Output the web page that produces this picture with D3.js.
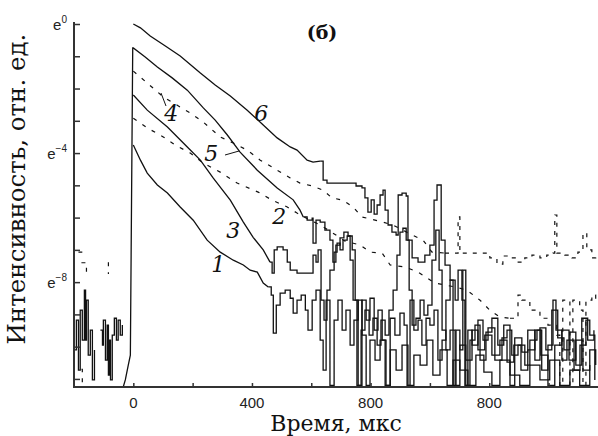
<!DOCTYPE html>
<html>
<head>
<meta charset="utf-8">
<script src="https://d3js.org/d3.v7.min.js"></script>
<style>
  body { margin: 0; background: #fff; }
</style>
</head>
<body>
<div id="chart"></div>
<script>
// ---- data: time (мкс), ln(intensity) ----
// smooth decays (drawn linear) and noisy tails (drawn as steps)
var curve6Decay = [[0,0],[24,-0.12],[57,-0.37],[108,-0.68],[158,-0.99],[226,-1.52],[276,-1.89],[327,-2.23],[384,-2.67],[438,-3.13],[485,-3.53],[529,-3.81],[552,-3.91],[586,-4.22],[606,-4.28],[630,-4.25]];
var curve6Tail = [[630,-4.25],[640,-4.84],[653,-4.93],[751,-5.02],[771,-5.08],[781,-5.39],[791,-5.83],[802,-5.45],[812,-5.89],[822,-5.61],[832,-5.3],[842,-5.15],[849,-5.77],[859,-6.23],[872,-6.45],[886,-6.54],[893,-5.3],[906,-5.24],[920,-5.33],[926,-6.7],[940,-7.25],[960,-7.38],[983,-7.16],[1000,-6.85],[1014,-5.46],[1024,-4.99],[1034,-4.99],[1038,-6.7],[1051,-7.47],[1068,-7.94],[1085,-8.56],[1095,-7.63],[1108,-8.56],[1118,-11.2],[1128,-9.49],[1142,-9.95],[1162,-9.18],[1179,-9.8],[1196,-9.42],[1219,-10.42],[1243,-9.73],[1260,-9.49],[1276,-10.26],[1297,-9.95],[1320,-10.57],[1337,-9.8],[1361,-9.49],[1377,-10.73],[1398,-9.95],[1415,-8.56],[1425,-9.49],[1445,-10.42],[1462,-9.8],[1486,-10.73],[1506,-9.95],[1526,-9.18],[1539,-9.64],[1556,-11.03]];

var curve5Decay = [[-34,-11.25],[-27,-11.03],[-17,-10.57],[-10,-10.26],[-2,-0.74],[0,-0.74],[40,-1.02],[81,-1.33],[131,-1.67],[182,-2.05],[236,-2.6],[276,-2.98],[317,-3.44],[360,-3.97],[418,-4.53],[485,-5.08],[539,-5.45],[562,-5.77],[573,-5.98]];
var curve5Tail = [[573,-5.98],[586,-6.08],[603,-6.02],[606,-6.79],[616,-6.08],[630,-6.14],[646,-6.39],[663,-6.7],[673,-7.38],[683,-6.85],[697,-6.63],[710,-6.45],[724,-6.57],[738,-7.0],[748,-8.56],[758,-11.2],[771,-8.56],[785,-9.18],[798,-8.5],[812,-9.49],[825,-8.87],[839,-9.8],[852,-11.2],[866,-9.12],[882,-9.64],[899,-8.96],[913,-9.33],[923,-11.2],[933,-8.56],[946,-9.49],[960,-9.18],[973,-9.95],[987,-9.12],[1000,-9.33],[1014,-8.87],[1027,-10.42],[1041,-9.8],[1054,-8.56],[1068,-7.94],[1078,-11.2],[1088,-9.49],[1101,-10.1],[1111,-7.63],[1121,-11.2],[1135,-9.8],[1152,-9.33],[1169,-10.42],[1189,-9.55],[1209,-9.12],[1229,-9.95],[1249,-9.33],[1270,-11.2],[1286,-9.73],[1310,-10.17],[1330,-9.49],[1354,-10.42],[1371,-9.42],[1391,-10.1],[1411,-8.87],[1431,-9.73],[1452,-10.1],[1472,-9.55],[1492,-10.57],[1512,-9.12],[1532,-9.8],[1553,-9.49]];

var curve3Decay = [[0,-2.2],[47,-2.67],[115,-3.19],[182,-3.81],[226,-4.22],[269,-4.77],[327,-5.46],[371,-6.14],[404,-6.61],[438,-7.0],[461,-7.38]];
var curve3Tail = [[461,-7.38],[468,-7.72],[475,-7.0],[485,-6.91],[505,-7.0],[519,-7.38],[529,-7.63],[552,-7.72],[596,-7.72],[606,-7.16],[616,-7.38],[623,-7.0],[633,-8.56],[643,-9.18],[653,-8.25],[663,-7.63],[677,-7.07],[687,-6.79],[697,-7.0],[707,-6.7],[721,-6.57],[731,-7.32],[741,-8.56],[754,-11.2],[768,-9.49],[781,-8.87],[795,-9.64],[808,-9.12],[822,-9.95],[835,-9.18],[849,-9.64],[862,-8.87],[876,-8.25],[889,-7.16],[899,-6.45],[909,-6.33],[920,-6.7],[930,-8.25],[940,-9.33],[953,-9.12],[967,-8.56],[980,-9.02],[993,-8.71],[1007,-7.32],[1020,-6.39],[1031,-7.63],[1041,-9.49],[1054,-10.1],[1068,-9.49],[1085,-11.2],[1101,-9.95],[1121,-10.42],[1142,-9.49],[1162,-10.1],[1185,-9.64],[1209,-10.26],[1236,-9.8],[1260,-10.48],[1283,-9.95],[1307,-10.73],[1330,-10.1],[1354,-9.49],[1374,-10.26],[1398,-11.2],[1421,-9.95],[1445,-9.49],[1469,-10.42],[1492,-9.8],[1516,-10.73],[1539,-10.1],[1559,-10.57]];

var curve1Pre = [[-202,-9.49],[-199,-10.1],[-192,-9.18],[-185,-10.73],[-179,-8.87],[-172,-9.8],[-165,-8.25],[-161,-9.8],[-158,-8.56],[-152,-10.26],[-145,-9.49],[-138,-11.03],[-131,-10.1],null,
  [-111,-9.49],[-104,-9.95],[-101,-9.18],[-94,-10.42],[-88,-9.33],[-84,-10.88],[-81,-9.8],[-77,-11.03],[-71,-9.64],[-64,-9.12],[-57,-9.8],[-51,-9.18],[-44,-9.64],[-37,-9.33]];
var curve1Decay = [[0,-3.75],[24,-4.22],[47,-4.62],[81,-4.99],[115,-5.24],[158,-5.67],[202,-6.08],[249,-6.7],[293,-7.07],[337,-7.32],[371,-7.47],[394,-7.63],[418,-7.69],[438,-8.03],[455,-8.15]];
var curve1Tail = [[455,-8.15],[465,-8.4],[472,-9.58],[482,-8.71],[495,-8.34],[512,-8.25],[529,-8.5],[539,-8.96],[552,-8.56],[566,-8.4],[580,-8.87],[589,-9.49],[603,-8.56],[616,-8.25],[630,-9.8],[640,-10.73],[650,-8.56],[663,-11.2],[677,-9.18],[690,-8.56],[704,-9.49],[717,-8.87],[731,-9.95],[744,-9.18],[758,-8.56],[771,-9.64],[785,-11.2],[798,-9.8],[815,-10.42],[832,-9.8],[849,-11.2],[866,-10.1],[886,-10.73],[906,-9.95],[926,-11.2],[946,-10.26],[967,-10.57],[990,-9.8],[1010,-10.88],[1034,-10.1],[1058,-11.2],[1078,-10.42],[1101,-10.73],[1128,-11.2],[1155,-10.26],[1182,-10.79],[1209,-11.2],[1236,-10.42],[1270,-10.88],[1303,-11.2],[1337,-10.57],[1371,-11.03],[1404,-10.42],[1438,-11.2],[1472,-10.73],[1505,-11.2],[1539,-10.57]];

// dashed curves
var curve4Decay = [[0,-1.46],[47,-1.83],[101,-2.26],[141,-2.48],[192,-2.76],[236,-3.04],[293,-3.5],[337,-3.69],[384,-3.91],[428,-4.22],[485,-4.53],[529,-4.77],[562,-4.93],[603,-5.02],[640,-5.15],[670,-5.39],[707,-5.46],[741,-5.67],[771,-5.98],[815,-6.08],[842,-6.14],[875,-6.23],[909,-6.39],[940,-6.54],[977,-6.7],[1007,-7.07],[1051,-7.1]];
var curve4Tail = [[1051,-7.1],[1091,-7.1],[1095,-5.98],[1101,-7.1],[1169,-7.1],[1202,-7.25],[1226,-7.44],[1246,-7.19],[1270,-7.25],[1293,-7.38],[1320,-7.25],[1344,-7.16],[1371,-7.25],[1394,-7.16],[1415,-7.1],[1421,-5.92],[1428,-7.1],[1455,-7.16],[1479,-7.25],[1499,-7.07],[1516,-6.48],[1529,-7.0],[1546,-7.25],[1559,-7.16]];
var curve2Decay = [[0,-2.92],[47,-3.22],[101,-3.5],[141,-3.75],[192,-4.0],[236,-4.31],[293,-4.59],[350,-4.93],[421,-5.21],[468,-5.46],[519,-5.67],[552,-5.86],[596,-6.08],[630,-6.23],[663,-6.42],[714,-6.73],[765,-6.85],[798,-7.07],[839,-7.1],[866,-7.47],[916,-7.53],[960,-7.69],[990,-7.87],[1017,-8.03],[1051,-8.09],[1085,-8.15],[1125,-8.25],[1169,-8.56],[1202,-8.87],[1236,-9.08],[1270,-9.12]];
var curve2Tail = [[1270,-9.12],[1297,-8.4],[1310,-8.56],[1337,-8.87],[1371,-9.12],[1398,-9.33],[1428,-9.64],[1438,-11.2],[1448,-8.56],[1472,-11.2],[1482,-8.56],[1505,-8.87],[1516,-11.2],[1526,-8.56],[1546,-8.4],[1559,-8.56]];
var dashedPre = [[-185,-7.07],[-172,-7.07],null,[-175,-7.4],[-158,-7.7],null,[-84,-7.38],[-84,-7.75],null,[-175,-10.7],[-172,-11.2]];

// ticks
var yTicks = [0,-1,-2,-3,-4,-5,-6,-7,-8,-9,-10,-11];
var yLabels = [[0,"0"],[-4,"\u22124"],[-8,"\u22128"]];
var xTicks = [0,200,400,600,800,1000,1200,1400];
var xLabels = [[0,"0"],[400,"400"],[800,"800"],[1200,"800"]];
var curveNames = ["1","2","3","4","5","6"];

// ---- layout ----
var W = 598, H = 436;
var x = d3.scaleLinear().domain([-200, 1560]).range([74, 596]);
var y = d3.scaleLinear().domain([-11.25, 0]).range([387, 24]);

var svg = d3.select("#chart").append("svg").attr("width", W).attr("height", H);

svg.append("defs").append("clipPath").attr("id", "plot")
  .append("rect").attr("x", 74).attr("y", 10).attr("width", 524).attr("height", 377);

var lin = d3.line().defined(function (d) { return d; })
  .x(function (d) { return x(d[0]); }).y(function (d) { return y(d[1]); });
var step = d3.line().defined(function (d) { return d; })
  .x(function (d) { return x(d[0]); }).y(function (d) { return y(d[1]); })
  .curve(d3.curveStepAfter);

var g = svg.append("g").attr("clip-path", "url(#plot)");

// solid curves
[curve6Decay, curve5Decay, curve3Decay, curve1Decay].forEach(function (c) {
  g.append("path").attr("d", lin(c)).attr("fill", "none").attr("stroke", "#111").attr("stroke-width", 1.3);
});
[curve6Tail, curve5Tail, curve3Tail, curve1Tail, curve1Pre].forEach(function (c) {
  g.append("path").attr("d", step(c)).attr("fill", "none").attr("stroke", "#111").attr("stroke-width", 1.3);
});
// dashed curves
[curve4Decay, curve2Decay].forEach(function (c) {
  g.append("path").attr("d", lin(c)).attr("fill", "none").attr("stroke", "#111")
    .attr("stroke-width", 1.2).attr("stroke-dasharray", "4,7");
});
[curve4Tail, curve2Tail, dashedPre].forEach(function (c) {
  g.append("path").attr("d", step(c)).attr("fill", "none").attr("stroke", "#111")
    .attr("stroke-width", 1.2).attr("stroke-dasharray", "4,6");
});

// axes (ticks inward)
var yAxis = svg.append("g").attr("transform", "translate(74,0)")
  .call(d3.axisRight(y).tickValues(yTicks).tickSize(6).tickFormat(""));
var xAxis = svg.append("g").attr("transform", "translate(0,387)")
  .call(d3.axisTop(x).tickValues(xTicks).tickSize(4).tickFormat(""));
[yAxis, xAxis].forEach(function (a) {
  a.select(".domain").attr("stroke", "#333").attr("stroke-width", 2);
  a.selectAll(".tick line").attr("stroke", "#333").attr("stroke-width", 1.5);
});
yAxis.select(".domain").attr("d", "M0,22V387");
xAxis.select(".domain").attr("d", "M73,0H598");

// y tick labels e^n
yLabels.forEach(function (d) {
  var t = svg.append("text").attr("x", 67).attr("y", y(d[0]) + 6)
    .attr("text-anchor", "end").style("font-family", "Liberation Sans, Arial, sans-serif")
    .style("font-size", "15px").attr("fill", "#222");
  t.append("tspan").text("e");
  t.append("tspan").attr("dy", -7).style("font-size", "10px").text(d[1]);
});
xLabels.forEach(function (d) {
  svg.append("text").attr("x", x(d[0])).attr("y", 408)
    .attr("text-anchor", "middle").style("font-family", "Liberation Sans, Arial, sans-serif")
    .style("font-size", "15px").attr("fill", "#222").text(d[1]);
});

// axis titles
svg.append("text").attr("transform", "translate(25,189) rotate(-90)")
  .attr("text-anchor", "middle").style("font-family", "DejaVu Serif, serif")
  .style("font-size", "24.5px").attr("fill", "#111").text("Интенсивность, отн. ед.");
svg.append("text").attr("x", 336).attr("y", 431)
  .attr("text-anchor", "middle").style("font-family", "DejaVu Serif, serif")
  .style("font-size", "22px").attr("fill", "#111").text("Время, мкс");

svg.append("text").attr("x", 322).attr("y", 39)
  .attr("text-anchor", "middle").style("font-family", "DejaVu Serif, serif")
  .style("font-size", "19px").style("font-weight", "bold").attr("fill", "#111").text("(б)");

// curve numbers
var labelPos = {"1": [286,-7.44], "2": [492,-5.95], "3": [337,-6.39], "4": [128,-2.76], "5": [263,-4.0], "6": [431,-2.76]};
curveNames.forEach(function (n) {
  svg.append("text").attr("x", x(labelPos[n][0])).attr("y", y(labelPos[n][1]) + 8)
    .attr("text-anchor", "middle").style("font-family", "DejaVu Serif, serif")
    .style("font-style", "italic").style("font-size", "22px").attr("fill", "#111").text(n);
});
// leader lines for 4 and 5
svg.append("line").attr("x1", 161).attr("y1", 93).attr("x2", 166).attr("y2", 106)
  .attr("stroke", "#111").attr("stroke-width", 1);
svg.append("line").attr("x1", 225).attr("y1", 155).attr("x2", 239).attr("y2", 151)
  .attr("stroke", "#111").attr("stroke-width", 1);
</script>
</body>
</html>
